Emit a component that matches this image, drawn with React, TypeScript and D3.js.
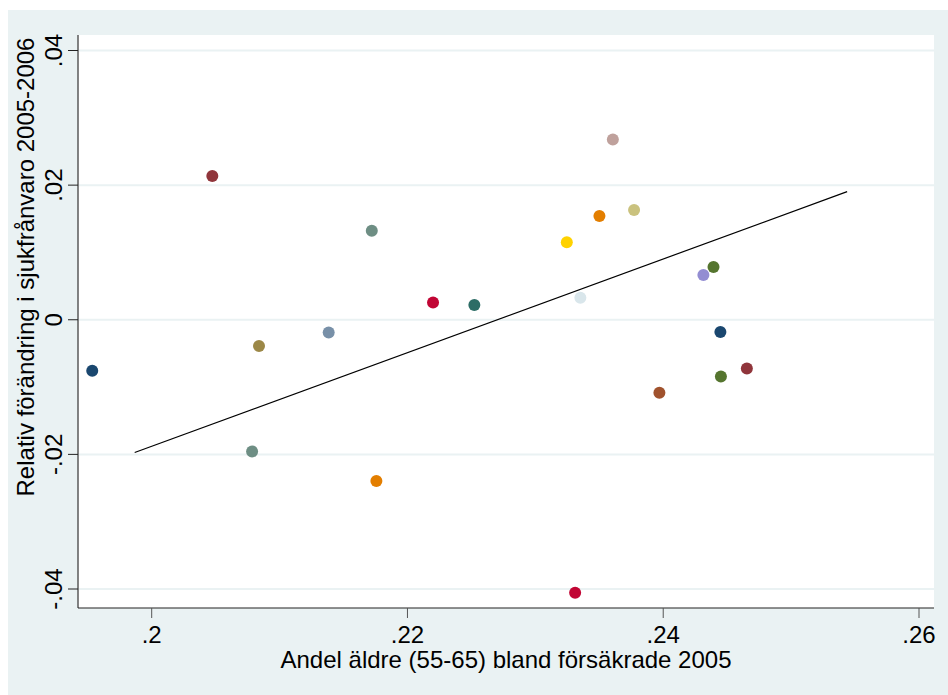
import React from 'react';
import * as d3 from 'd3';

// andel äldre (55-65) 2005
const xValues = [
  0.19535, 0.20474, 0.21721, 0.2220, 0.22523, 0.21384, 0.20839, 0.20785, 0.21757,
  0.23606, 0.23501, 0.23772, 0.23246, 0.23352, 0.24393, 0.24314, 0.24447, 0.24654,
  0.24451, 0.23970, 0.23311,
];
// relativ förändring i sjukfrånvaro 2005-2006
const yValues = [
  -0.00758, 0.02137, 0.01323, 0.00257, 0.00219, -0.00189, -0.00391, -0.01958, -0.02394,
  0.02677, 0.01542, 0.01631, 0.01150, 0.00327, 0.00784, 0.00665, -0.00183, -0.00724,
  -0.00843, -0.01086, -0.04055,
];
const markerColors = [
  '#1A476F', '#90353B', '#6E8E84', '#C10534', '#2D6D66', '#7890A8', '#9C8847', '#6E8E84', '#E37E00',
  '#BFA19C', '#E37E00', '#CAC27E', '#FFD200', '#D9E6EB', '#55752F', '#938DD2', '#1A476F', '#90353B',
  '#55752F', '#A0522D', '#C10534',
];
const fitLine = [
  { x: 0.19867, y: -0.01973 },
  { x: 0.25438, y: 0.01903 },
];
const xTicks = [0.2, 0.22, 0.24, 0.26];
const yTicks = [-0.04, -0.02, 0, 0.02, 0.04];
const xTitle = 'Andel äldre (55-65) bland försäkrade 2005';
const yTitle = 'Relativ förändring i sjukfrånvaro 2005-2006';

const W = 948;
const H = 695;
const plot = { left: 78, right: 934, top: 35, bottom: 608 };
const bg = '#EAF2F3';
const font = '"Liberation Sans", Arial, sans-serif';
const fs = 24;

// stata style: .02, -.04, 0
const fmt = (v: number) => (v === 0 ? '0' : (v < 0 ? '-' : '') + Math.abs(v).toString().replace(/^0\./, '.'));

export default function App() {
  const x = d3.scaleLinear().domain([0.2, 0.26]).range([151.7, 919]);
  const y = d3.scaleLinear().domain([-0.04, 0.04]).range([589, 50.5]);
  const line = d3.line<{ x: number; y: number }>().x(d => x(d.x)).y(d => y(d.y));

  return (
    <svg width={W} height={H} style={{ position: 'absolute', left: 0, top: 0 }}>
      <rect x={8} y={10} width={W - 8} height={H - 10} fill={bg} />
      <rect x={plot.left} y={plot.top} width={plot.right - plot.left} height={plot.bottom - plot.top} fill="#fff" />

      {yTicks.map(t => (
        <line key={'g' + t} x1={plot.left} x2={plot.right} y1={y(t)} y2={y(t)} stroke={bg} strokeWidth={2} />
      ))}

      <path d={line(fitLine) || ''} fill="none" stroke="#000" strokeWidth={1.2} />

      {xValues.map((v, i) => (
        <circle key={i} cx={x(v)} cy={y(yValues[i])} r={6} fill={markerColors[i]} />
      ))}

      {/* y axis */}
      <line x1={plot.left} x2={plot.left} y1={plot.top} y2={plot.bottom} stroke="#5a5a5a" strokeWidth={1.5} />
      {yTicks.map(t => (
        <g key={'y' + t}>
          <line x1={plot.left - 10} x2={plot.left} y1={y(t)} y2={y(t)} stroke="#222" strokeWidth={1} />
          <text
            transform={`translate(62,${y(t)}) rotate(-90)`}
            textAnchor="middle"
            fontFamily={font}
            fontSize={fs}
            fill="#000"
          >
            {fmt(t)}
          </text>
        </g>
      ))}

      {/* x axis */}
      <line x1={plot.left} x2={plot.right} y1={plot.bottom} y2={plot.bottom} stroke="#222" strokeWidth={1.2} />
      {xTicks.map(t => (
        <g key={'x' + t}>
          <line x1={x(t)} x2={x(t)} y1={plot.bottom} y2={plot.bottom + 10} stroke="#555" strokeWidth={1} />
          <text x={x(t)} y={643} textAnchor="middle" fontFamily={font} fontSize={fs} fill="#000">
            {fmt(t)}
          </text>
        </g>
      ))}

      <text x={(plot.left + plot.right) / 2} y={668} textAnchor="middle" fontFamily={font} fontSize={fs} fill="#000">
        {xTitle}
      </text>
      <text
        transform={`translate(34,267) rotate(-90)`}
        textAnchor="middle"
        fontFamily={font}
        fontSize={fs}
        fill="#000"
      >
        {yTitle}
      </text>
    </svg>
  );
}
